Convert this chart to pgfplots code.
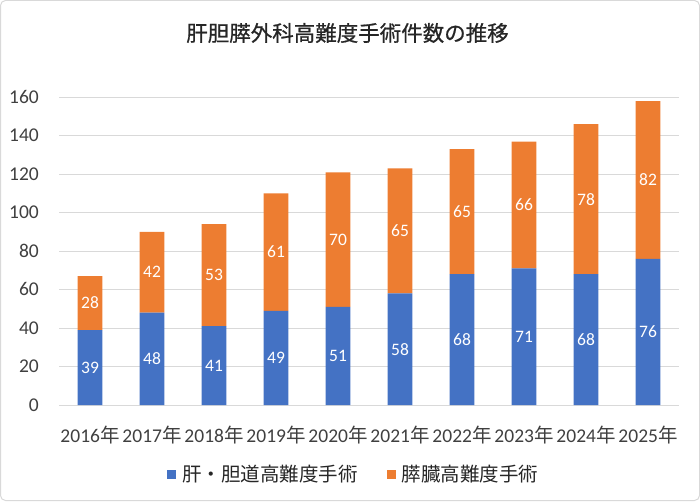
\documentclass[border=0pt]{standalone}
\usepackage{pgfplots}
\pgfplotsset{compat=1.18}
\usepackage{pgfplotstable}
\usepackage{fontspec}
\setmainfont{Carlito}
\newfontfamily\cjk{Noto Sans CJK JP}
\newfontfamily\cjktitle[FakeBold=0.8]{Noto Sans CJK JP}
\definecolor{cblue}{HTML}{4472C4}
\definecolor{corange}{HTML}{ED7D31}
\definecolor{cgrid}{HTML}{D9D9D9}
\definecolor{ctext}{HTML}{404040}
\pgfplotstableread{
x a b
0 39 28
1 48 42
2 41 53
3 49 61
4 51 70
5 58 65
6 68 65
7 71 66
8 68 78
9 76 82
}\surg
\begin{document}
\begin{tikzpicture}
\draw[cgrid, line width=1pt, rounded corners=5pt] (0.5pt,0.5pt) rectangle (699.5pt,500.5pt);
\node[text=black!85, font=\cjktitle\fontsize{21.5}{25}\selectfont] at (347.5pt,468pt) {肝胆膵外科高難度手術件数の推移};
\begin{axis}[
  at={(59pt,96pt)}, anchor=south west,
  scale only axis, width=620pt, height=307.7pt,
  xmin=-0.5, xmax=9.5, ymin=0, ymax=160,
  ybar stacked, bar width=24.6pt,
  axis line style={draw=none},
  major tick length=0pt,
  ymajorgrids, major grid style={cgrid, line width=1pt},
  ytick={0,20,...,160},
  xtick={0,...,9},
  xticklabels={{2016\cjk{年}},{2017\cjk{年}},{2018\cjk{年}},{2019\cjk{年}},{2020\cjk{年}},{2021\cjk{年}},{2022\cjk{年}},{2023\cjk{年}},{2024\cjk{年}},{2025\cjk{年}}},
  /pgf/number format/assume math mode=true,
  yticklabel style={font=\fontsize{19.5}{22}\selectfont, text=ctext, anchor=base east, inner sep=0pt, xshift=-20pt, yshift=-6.2pt},
  xticklabel style={font=\fontsize{19.5}{22}\selectfont, text=ctext, anchor=base, inner sep=0pt, yshift=-37pt},
  legend columns=2,
  legend style={at={(0.474,-0.2243)}, anchor=center, draw=none, fill=none, inner sep=0pt,
    font=\cjk\fontsize{19.5}{22}\selectfont, text=black!85,
    nodes={inner sep=0pt},
    /tikz/every odd column/.append style={column sep=6pt},
    /tikz/every even column/.append style={column sep=29pt}},
]
\addplot[fill=cblue, draw=none, legend image code/.code={\fill[cblue] (0pt,-4.5pt) rectangle (9pt,4.5pt);}] table[x=x, y=a] {\surg};
\addlegendentry{肝・胆道高難度手術}
\addplot[fill=corange, draw=none, legend image code/.code={\fill[corange] (0pt,-4.5pt) rectangle (9pt,4.5pt);}] table[x=x, y=b] {\surg};
\addlegendentry{膵臓高難度手術}
\end{axis}
\begin{axis}[
  at={(59pt,96pt)}, anchor=south west,
  scale only axis, width=620pt, height=307.7pt,
  xmin=-0.5, xmax=9.5, ymin=0, ymax=160,
  hide axis,
  nodes near coords={\pgfplotspointmeta},
  every node near coord/.style={anchor=center, text=white, font=\fontsize{17.5}{20}\selectfont, inner sep=0pt},
  point meta=explicit symbolic,
]
\addplot[only marks, mark=*, mark size=0pt, mark options={draw=none, fill=none}] table[x=x, y expr=\thisrow{a}/2, meta=a] {\surg};
\addplot[only marks, mark=*, mark size=0pt, mark options={draw=none, fill=none}] table[x=x, y expr=\thisrow{a}+\thisrow{b}/2, meta=b] {\surg};
\end{axis}
\end{tikzpicture}
\end{document}
